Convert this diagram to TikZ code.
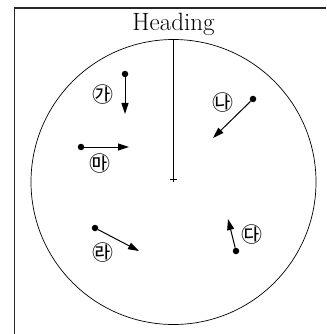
\documentclass[tikz,border=0pt]{standalone}
\usepackage{fontspec}
\newfontfamily\krfont{Noto Sans CJK KR}
\usetikzlibrary{arrows.meta}
\tikzset{
  px/.style={x=1pt,y=-1pt},
  frameline/.style={line width=1.2pt,draw=black!85},
  thin/.style={line width=0.7pt},
  vec/.style={line width=1pt,-{Triangle[length=11pt,width=7pt]}},
  dotnode/.style={circle,fill=black,inner sep=0pt,minimum size=6.5pt},
  lab/.style={font=\krfont\fontsize{21}{21}\selectfont,inner sep=0pt},
  headtext/.style={font=\fontsize{25}{28}\selectfont,inner sep=0pt,anchor=base}
}
\begin{document}
\begin{tikzpicture}[px]
\useasboundingbox (0,0) rectangle (326,334);
% frame (top and left edges)
\coordinate (ftl) at (14.5,8);
\coordinate (ftr) at (326,8);
\coordinate (fbl) at (14.5,334);
\draw[frameline] (ftr) -- (ftl) -- (fbl);
% heading
\node[headtext] (head) at (173.5,30.5) {Heading};
% plot circle
\coordinate (c) at (173.5,182);
\draw[thin] (c) circle[radius=142.5pt];
% heading line and centre mark
\coordinate (top) at (173.5,39.5);
\coordinate (ctrb) at (173.5,182);
\coordinate (tl) at (170,179);
\coordinate (tr) at (177,179);
\draw[thin] (top) -- (ctrb);
\draw[thin] (tl) -- (tr);
% vectors
\node[dotnode] (ga) at (125,74) {};
\coordinate (gaend) at (125,114);
\draw[vec] (ga) -- (gaend);
\node[lab] (galab) at (103,95) {㉮};

\node[dotnode] (na) at (253,99) {};
\coordinate (naend) at (213,138);
\draw[vec] (na) -- (naend);
\node[lab] (nalab) at (223,103) {㉯};

\node[dotnode] (da) at (236,251) {};
\coordinate (daend) at (228,219);
\draw[vec] (da) -- (daend);
\node[lab] (dalab) at (252,235) {㉰};

\node[dotnode] (ra) at (95,228) {};
\coordinate (raend) at (139,251);
\draw[vec] (ra) -- (raend);
\node[lab] (ralab) at (103,253) {㉱};

\node[dotnode] (ma) at (81,147) {};
\coordinate (maend) at (129,147);
\draw[vec] (ma) -- (maend);
\node[lab] (malab) at (100,164) {㉲};
\end{tikzpicture}
\end{document}
